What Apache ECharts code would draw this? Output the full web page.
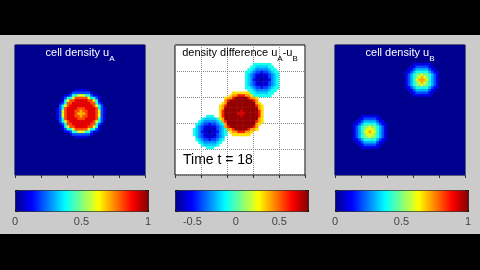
<!DOCTYPE html>
<html>
<head>
<meta charset="utf-8">
<script src="https://cdn.jsdelivr.net/npm/echarts@6.0.0/dist/echarts.min.js"></script>
<style>
  html, body { margin: 0; padding: 0; background: #000; }
  #band { position: absolute; left: 0; top: 35px; width: 480px; height: 199px; background: #cbcbcb; }
  #chart { position: absolute; left: 0; top: 0; width: 480px; height: 270px; }
</style>
</head>
<body>
<div id="band"></div>
<div id="chart"></div>
<script>
// ---------------- DATA ----------------
// Field resolution (cells per side) and cell indices used as category labels
const cellCount = 50;
const cellIndex = Array.from({ length: cellCount }, (_, i) => i);

// Value scales of the three colour bars
const rangeA = [0, 1];
const rangeDiff = [-0.7, 0.83];
const rangeB = [0, 1];

// Colour bar tick labels
const ticksA = [0, 0.5, 1];
const ticksDiff = [-0.5, 0, 0.5];
const ticksB = [0, 0.5, 1];

// Titles
const titleA = ['cell density u', 'A'];
const titleDiff = ['density difference u', 'A', '-u', 'B'];
const titleB = ['cell density u', 'B'];
const timeLabel = 'Time t = 18';

// Cell values. Digits = tenths (0..9 -> 0..0.9),
// letters a..g = -0.1..-0.7, '.' = no value (blank).
// Each patch: rows of cells, placed at [column, row] of its top-left cell.
const uAPatch = [
  "0000000111110000000",
  "0000012222222100000",
  "0001124466644211000",
  "0012446888886442100",
  "0014688999998864100",
  "0124889999999884210",
  "0246899999999986420",
  "1248999988899998421",
  "1268999887889998621",
  "1268999877789998621",
  "1268999887889998621",
  "1248999988899998421",
  "0246899999999986420",
  "0124889999999884210",
  "0014688999998864100",
  "0012446888886442100",
  "0001124466644211000",
  "0000012222222100000",
  "0000000111110000000"
];
const uAPatchAt = [16, 17];

const uBUpperPatch = [
  "000011111110000",
  "000112222211000",
  "001123333321100",
  "011234444432110",
  "012345565543210",
  "012345676543210",
  "012346777643210",
  "012345676543210",
  "012345565543210",
  "011234444432110",
  "001123333321100",
  "000112222211000",
  "000011111110000"
];
const uBUpperAt = [26, 7];

const uBLowerPatch = [
  "000011111110000",
  "000112222211000",
  "001123333321100",
  "011234444432110",
  "012345565543210",
  "012345666543210",
  "012346676643210",
  "012345666543210",
  "012345565543210",
  "011234444432110",
  "001123333321100",
  "000112222211000",
  "000011111110000"
];
const uBLowerAt = [6, 27];

const diffRedPatch = [
  "......3333333......",
  ".....344666443.....",
  "...3446888886443...",
  "...4688888888864...",
  "..348888888888843..",
  ".34688888888888643.",
  ".34888888888888843.",
  ".36888888788888863.",
  ".36888887778888863.",
  ".36888888788888863.",
  ".34888888888888843.",
  ".34688888888888643.",
  "..348888888888843..",
  "...4688888888864...",
  "...3446888886443...",
  ".....344666443.....",
  "......3333333......"
];
const diffRedAt = [16, 18];

const diffUpperPatch = [
  "...aaaaaaa...",
  "..aabbbbbaa..",
  ".aabcccccbaa.",
  "aabcddeddcbaa",
  "abcdefffedcba",
  "abcdfffffdcba",
  "abceffgffecba",
  "abcdfffffdcba",
  "abcdefffedcba",
  "aabcddeddcbaa",
  ".aabcccccbaa.",
  "..aabbbbbaa..",
  "...aaaaaaa..."
];
const diffUpperAt = [27, 7];

const diffLowerPatch = [
  ".....aaa.....",
  "...abbbbba...",
  "..abcccccba..",
  ".abcddeddcba.",
  ".bcdefffedcb.",
  "abcdfffffdcba",
  "abceffgffecba",
  "abcdfffffdcba",
  ".bcdefffedcb.",
  ".abcddeddcba.",
  "..abcccccba..",
  "...abbbbba...",
  ".....aaa....."
];
const diffLowerAt = [7, 27];

// ---------------- BUILD ----------------
function decode(ch) {
  if (ch >= '0' && ch <= '9') return (ch.charCodeAt(0) - 48) / 10;
  if (ch >= 'a' && ch <= 'j') return -(ch.charCodeAt(0) - 96) / 10;
  return null;
}
function buildCells(background, patches) {
  const field = [];
  for (let r = 0; r < cellCount; r++) {
    field.push(new Array(cellCount).fill(background));
  }
  patches.forEach(([rows, at]) => {
    rows.forEach((line, dr) => {
      for (let dc = 0; dc < line.length; dc++) {
        const v = decode(line[dc]);
        const r = at[1] + dr, c = at[0] + dc;
        if (v !== null && r < cellCount && c < cellCount) field[r][c] = v;
      }
    });
  });
  const out = [];
  for (let r = 0; r < cellCount; r++) {
    for (let c = 0; c < cellCount; c++) {
      if (field[r][c] !== null) out.push([c, r, field[r][c]]);
    }
  }
  return out;
}
const cellsA = buildCells(0, [[uAPatch, uAPatchAt]]);
const cellsB = buildCells(0, [[uBUpperPatch, uBUpperAt], [uBLowerPatch, uBLowerAt]]);
const cellsDiff = buildCells(null, [[diffRedPatch, diffRedAt], [diffUpperPatch, diffUpperAt], [diffLowerPatch, diffLowerAt]]);

const FONT = "'Liberation Sans', Arial, Helvetica, sans-serif";
const JET = ['#00008f', '#0000ff', '#0080ff', '#00ffff', '#80ff80', '#ffff00', '#ff8000', '#ff0000', '#800000'];

const panelLefts = [15, 175, 335];
const panelTop = 45, panelSize = 130;
const barTop = 190, barLen = 133, barThick = 21;

function richTitle(parts, color) {
  let s = '';
  parts.forEach((p, i) => { s += (i % 2 === 0 ? '{m|' : '{s|') + p + '}'; });
  return {
    text: s,
    left: 0, top: panelTop + 2, textAlign: 'center', padding: 0,
    textStyle: {
      fontWeight: 'normal',
      rich: {
        m: { fontSize: 11, fontWeight: 'normal', color: color, fontFamily: FONT, lineHeight: 14, verticalAlign: 'top' },
        s: { fontSize: 8, fontWeight: 'normal', color: color, fontFamily: FONT, lineHeight: 8, padding: [8, 0, 0, 0], verticalAlign: 'top' }
      }
    }
  };
}
const titles = [richTitle(titleA, '#ffffff'), richTitle(titleDiff, '#000000'), richTitle(titleB, '#ffffff')];
titles.forEach((t, i) => { t.left = panelLefts[i] + panelSize / 2; });
titles.push({
  text: timeLabel, left: 183, top: 151, padding: 0,
  textStyle: { fontSize: 14, fontWeight: 'normal', color: '#000', fontFamily: FONT, lineHeight: 18 }
});

const grids = [], xAxes = [], yAxes = [], series = [], visualMaps = [];
const fields = [cellsA, cellsDiff, cellsB];
const ranges = [rangeA, rangeDiff, rangeB];
const tickSets = [ticksA, ticksDiff, ticksB];

for (let i = 0; i < 3; i++) {
  const isDiff = i === 1;
  grids.push({
    left: panelLefts[i], top: panelTop, width: panelSize, height: panelSize,
    show: true, backgroundColor: isDiff ? '#ffffff' : '#00008f',
    borderColor: isDiff ? '#000' : '#333', borderWidth: 1
  });
  xAxes.push({
    type: 'category', gridIndex: i, data: cellIndex,
    axisLabel: { show: false },
    axisLine: { show: false },
    axisTick: { show: true, interval: 9, length: 3, inside: false, lineStyle: { color: '#333' } },
    splitLine: { show: isDiff, interval: 9, lineStyle: { type: 'dotted', color: '#8a8a8a', width: 1 } }
  });
  yAxes.push({
    type: 'category', gridIndex: i, data: cellIndex, inverse: true,
    axisLabel: { show: false }, axisLine: { show: false }, axisTick: { show: false },
    splitLine: { show: isDiff, interval: 9, lineStyle: { type: 'dotted', color: '#8a8a8a', width: 1 } }
  });
  series.push({
    type: 'heatmap', xAxisIndex: i, yAxisIndex: i, data: fields[i],
    progressive: 0, silent: true, emphasis: { disabled: true },
    itemStyle: { borderWidth: 0 }
  });
  visualMaps.push({
    type: 'continuous', seriesIndex: i, min: ranges[i][0], max: ranges[i][1],
    orient: 'horizontal', left: panelLefts[i], top: barTop,
    itemWidth: barThick, itemHeight: barLen, calculable: false, hoverLink: false,
    padding: 0, borderColor: '#000', borderWidth: 1, text: null,
    inRange: { color: JET }
  });
}
// colour bar tick-label axes
for (let i = 0; i < 3; i++) {
  grids.push({ left: panelLefts[i], top: barTop, width: barLen, height: barThick, show: false });
  xAxes.push({
    type: 'value', gridIndex: 3 + i, min: ranges[i][0], max: ranges[i][1],
    axisLine: { show: false }, axisTick: { show: false }, splitLine: { show: false },
    axisLabel: { customValues: tickSets[i], margin: 5, fontSize: 11, color: '#444', fontFamily: FONT }
  });
  yAxes.push({ type: 'value', gridIndex: 3 + i, show: false });
}

const chart = echarts.init(document.getElementById('chart'), null, { renderer: 'canvas' });
chart.setOption({
  animation: false,
  backgroundColor: 'transparent',
  title: titles,
  grid: grids,
  xAxis: xAxes,
  yAxis: yAxes,
  visualMap: visualMaps,
  series: series
});
</script>
</body>
</html>
